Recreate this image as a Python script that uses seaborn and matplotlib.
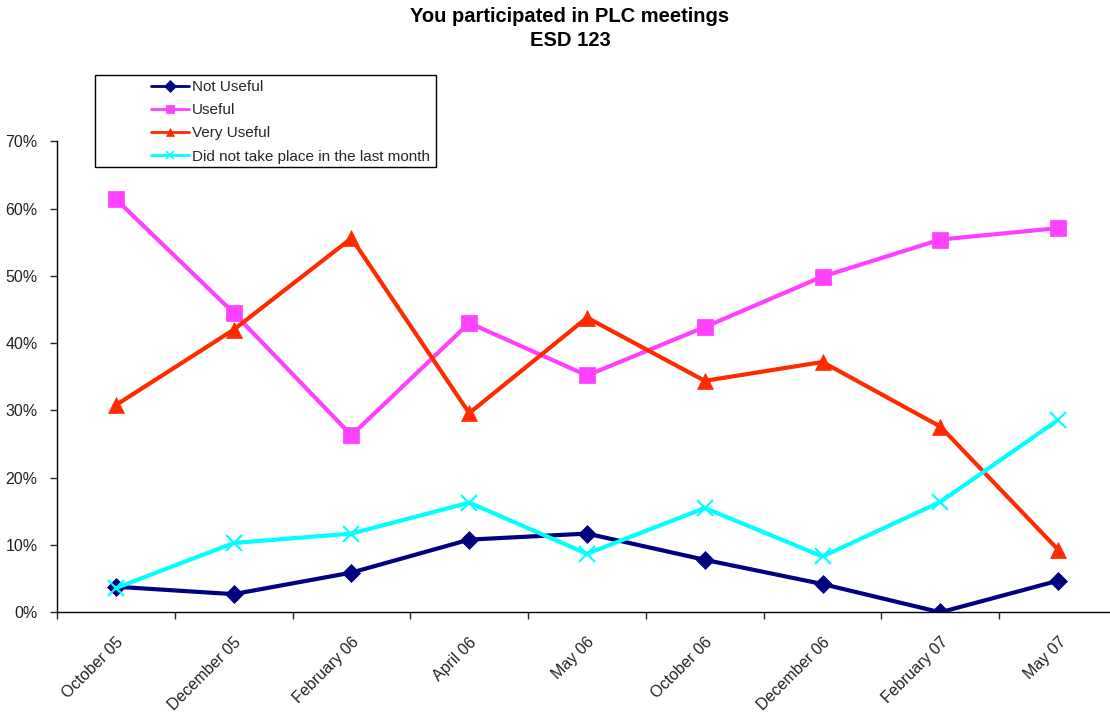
import matplotlib
matplotlib.use("Agg")
import matplotlib.pyplot as plt
from matplotlib.lines import Line2D
from matplotlib.patches import Rectangle
from matplotlib.ticker import FixedLocator, PercentFormatter
import seaborn as sns
import pandas as pd

# Survey periods
months = ['October 05', 'December 05', 'February 06', 'April 06', 'May 06',
          'October 06', 'December 06', 'February 07', 'May 07']

# Share of answers per period (fractions)
not_useful = [0.038, 0.027, 0.059, 0.108, 0.117, 0.078, 0.042, 0.0, 0.047]
useful = [0.614, 0.445, 0.263, 0.430, 0.352, 0.424, 0.499, 0.554, 0.571]
very_useful = [0.308, 0.420, 0.556, 0.296, 0.438, 0.344, 0.372, 0.276, 0.093]
did_not = [0.036, 0.103, 0.117, 0.163, 0.087, 0.155, 0.083, 0.164, 0.286]

series = ['Not Useful', 'Useful', 'Very Useful', 'Did not take place in the last month']
colors = ['#000080', '#FF40FF', '#FF2A00', '#00FFFF']
markers = ['D', 's', '^', 'x']
msizes = [9, 11, 11, 11]

df = pd.DataFrame({'month': months * 4,
                   'value': not_useful + useful + very_useful + did_not,
                   'series': [s for s in series for _ in months]})

sns.set_style("white")
plt.rcParams['font.family'] = ['Liberation Sans', 'DejaVu Sans']

fig = plt.figure(figsize=(11.1, 7.17), dpi=100)
ax = fig.add_axes([57 / 1110, (717 - 612.3) / 717, (1117 - 57) / 1110, 471 / 717])

for s, c, m, ms in zip(series, colors, markers, msizes):
    sub = df[df['series'] == s]
    sns.lineplot(x='month', y='value', data=sub, ax=ax, color=c, marker=m,
                 markersize=ms, linewidth=3, markeredgecolor=c,
                 markeredgewidth=1.5 if m == 'x' else 0.5, sort=False, legend=False)

ax.set_xlim(-0.5, len(months) - 0.5)
ax.set_ylim(0, 0.70)
ax.set_xlabel('')
ax.set_ylabel('')
ax.yaxis.set_major_locator(FixedLocator([i / 10 for i in range(8)]))
ax.yaxis.set_major_formatter(PercentFormatter(1.0, decimals=0))
ax.tick_params(axis='y', labelsize=11.5, length=5, width=1, direction='out', pad=9,
               left=True, labelcolor='#222222')

ax.set_xticks(range(len(months)))
ax.set_xticklabels(months, rotation=45, ha='right', rotation_mode='anchor', fontsize=11.5)
ax.tick_params(axis='x', which='major', length=0, pad=16, labelcolor='#222222')
ax.set_xticks([i - 0.5 for i in range(len(months) + 1)], minor=True)
ax.tick_params(axis='x', which='minor', length=5, width=1, direction='out', bottom=True)

for side in ['top', 'right']:
    ax.spines[side].set_visible(False)
for side in ['left', 'bottom']:
    ax.spines[side].set_color('black')
    ax.spines[side].set_linewidth(1)

# Title
fig.text(570 / 1110, 1 - 16 / 717, 'You participated in PLC meetings', ha='center', va='center',
         fontsize=14.5, fontweight='bold', color='black')
fig.text(570 / 1110, 1 - 40 / 717, 'ESD 123', ha='center', va='center',
         fontsize=14.5, fontweight='bold', color='black')

# Legend with an Excel-style box
handles = [Line2D([0], [0], color=c, marker=m, markersize=6, linewidth=2,
                  markeredgecolor=c, markeredgewidth=1.2 if m == 'x' else 0.5)
           for c, m in zip(colors, markers)]
fig.legend(handles, series, loc='upper left', bbox_to_anchor=(151 / 1110, 1 - 80 / 717),
           frameon=False, fontsize=11, handlelength=2.5, handletextpad=0.2,
           labelspacing=0.6, borderpad=0, borderaxespad=0, numpoints=1)
fig.patches.append(Rectangle((95 / 1110, (717 - 167) / 717), 341 / 1110, 92 / 717,
                             transform=fig.transFigure, fill=False,
                             edgecolor='black', linewidth=1))

fig.savefig('out.png', dpi=100)
